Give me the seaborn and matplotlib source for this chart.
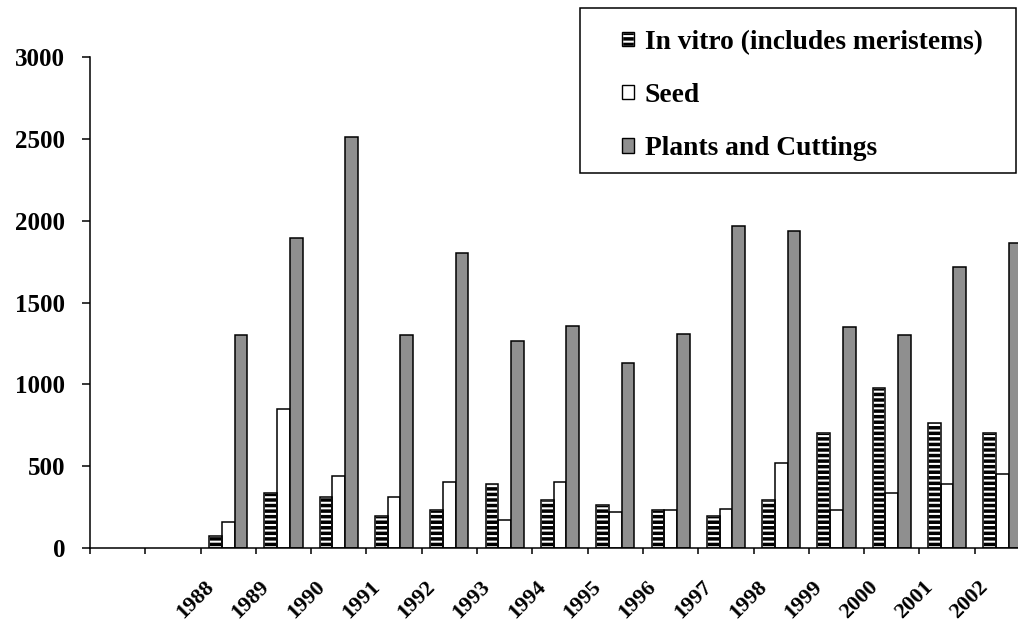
import numpy as np
import pandas as pd
import matplotlib
matplotlib.use('Agg')
import matplotlib.pyplot as plt
import seaborn as sns
from matplotlib.patches import Rectangle, Patch
from matplotlib.transforms import ScaledTranslation

# values
years = ['1988', '1989', '1990', '1991', '1992', '1993', '1994', '1995',
         '1996', '1997', '1998', '1999', '2000', '2001', '2002']
in_vitro = [75, 338, 310, 195, 232, 393, 293, 261, 230, 196, 293, 700, 977, 765, 700]
seed = [161, 849, 440, 310, 403, 173, 403, 220, 230, 240, 517, 230, 334, 391, 450]
plants = [1299, 1892, 2513, 1299, 1804, 1263, 1356, 1132, 1310, 1967, 1938, 1348, 1301, 1719, 1861]

series_names = ['In vitro (includes meristems)', 'Seed', 'Plants and Cuttings']
# two empty slots on the axis before 1988
order = ['', ' '] + years

df = pd.DataFrame({
    'year': years * 3,
    'value': in_vitro + seed + plants,
    'series': [s for s in series_names for _ in years],
})

plt.rcParams['font.family'] = ['Liberation Serif', 'DejaVu Serif']
plt.rcParams['font.weight'] = 'bold'
plt.rcParams['hatch.linewidth'] = 1.5

W, H = 1018, 621
fig = plt.figure(figsize=(W / 100, H / 100), dpi=100)
ax = fig.add_axes([90 / W, (H - 548) / H, 940 / W, 491 / H])

sns.barplot(data=df, x='year', y='value', hue='series', order=order,
            hue_order=series_names, palette=['black', 'white', '#8f8f8f'],
            width=0.69, edgecolor='black', linewidth=1.1, saturation=1,
            legend=False, ax=ax)

# in vitro bars: black with white horizontal stripes, black outline on top
for p in ax.containers[0].patches:
    p.set_facecolor('black')
    p.set_edgecolor('white')
    p.set_hatch('---')
    ax.add_patch(Rectangle(p.get_xy(), p.get_width(), p.get_height(),
                           fill=False, edgecolor='black', linewidth=1.1, zorder=p.get_zorder() + 0.1))

ax.set_xlim(-0.5, len(order) - 0.5)
ax.set_ylim(0, 3000)
ax.set_yticks(np.arange(0, 3001, 500))
ax.set_xticks(np.arange(-0.5, len(order), 1), [])
ax.set_xticks(np.arange(2, len(order)), years, minor=True)
ax.set_xlabel('')
ax.set_ylabel('')

ax.tick_params(axis='y', length=5.8, width=1.1, pad=12, labelsize=18, color='black')
ax.tick_params(axis='x', which='major', length=4.3, width=1.1, color='black')
ax.tick_params(axis='x', which='minor', length=0, pad=21, labelsize=16)
for lab in ax.get_xticklabels(minor=True):
    lab.set_rotation(45)
    lab.set_ha('right')
    lab.set_va('top')
    lab.set_transform(lab.get_transform() + ScaledTranslation(-0.10, 0, fig.dpi_scale_trans))

for side in ['top', 'right']:
    ax.spines[side].set_visible(False)
for side in ['left', 'bottom']:
    ax.spines[side].set_linewidth(1.1)
    ax.spines[side].set_color('black')

# legend
h_vitro = (Patch(facecolor='black', edgecolor='white', hatch='---'),
           Patch(facecolor='none', edgecolor='black', linewidth=1.0))
h_seed = Patch(facecolor='white', edgecolor='black', linewidth=1.0)
h_plants = Patch(facecolor='#8f8f8f', edgecolor='black', linewidth=1.0)
fig.legend([h_vitro, h_seed, h_plants], series_names, loc='upper left',
           bbox_to_anchor=(622 / W, 1 - 30 / H), frameon=False, borderpad=0,
           borderaxespad=0, handlelength=0.43, handleheight=0.43,
           handletextpad=0.4, labelspacing=1.02, prop={'size': 19.8, 'weight': 'bold'})
fig.add_artist(Rectangle((580 / W, (H - 173) / H), 436 / W, 165 / H, transform=fig.transFigure,
                         fill=False, edgecolor='black', linewidth=1.1))

fig.savefig('out.png', dpi=100)
